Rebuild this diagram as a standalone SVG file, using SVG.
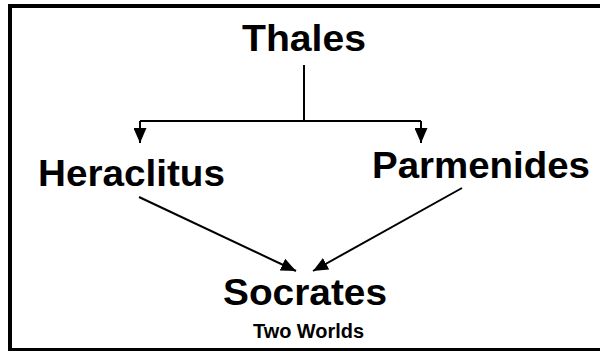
<svg xmlns="http://www.w3.org/2000/svg" width="600" height="351" viewBox="0 0 600 351">
<style>
  .t { font-family: "Liberation Sans", Arial, sans-serif; font-weight: bold; fill: #000; text-anchor: middle; }
  .big { font-size: 37px; }
  .small { font-size: 20px; }
  .c { stroke: #000; stroke-width: 2; fill: none; }
</style>
<defs>
  <marker id="ah" markerUnits="userSpaceOnUse" markerWidth="15" markerHeight="13" refX="15" refY="6.5" orient="auto">
    <path d="M0,0 L15,6.5 L0,13 z" fill="#000"/>
  </marker>
</defs>
<rect x="0" y="0" width="600" height="351" fill="#fff"/>
<rect x="10" y="6" width="600" height="344" fill="none" stroke="#000" stroke-width="4"/>
<g id="connectors">
  <path class="c" d="M304,65 L304,121"/>
  <path class="c" d="M140,121 L421,121"/>
  <path class="c" d="M140,121 L140,143" marker-end="url(#ah)"/>
  <path class="c" d="M421,121 L421,143" marker-end="url(#ah)"/>
  <path class="c" d="M139,197 L296,271" marker-end="url(#ah)"/>
  <path class="c" d="M462,188 L313,271" marker-end="url(#ah)"/>
</g>
<g id="thales"><text class="t big" x="304" y="51" textLength="124" lengthAdjust="spacingAndGlyphs">Thales</text></g>
<g id="heraclitus"><text class="t big" x="131.5" y="186" textLength="187" lengthAdjust="spacingAndGlyphs">Heraclitus</text></g>
<g id="parmenides"><text class="t big" x="481" y="178" textLength="218" lengthAdjust="spacingAndGlyphs">Parmenides</text></g>
<g id="socrates">
  <text class="t big" x="305" y="305" textLength="164" lengthAdjust="spacingAndGlyphs">Socrates</text>
  <text class="t small" x="308.5" y="338" textLength="111" lengthAdjust="spacingAndGlyphs">Two Worlds</text>
</g>
</svg>
